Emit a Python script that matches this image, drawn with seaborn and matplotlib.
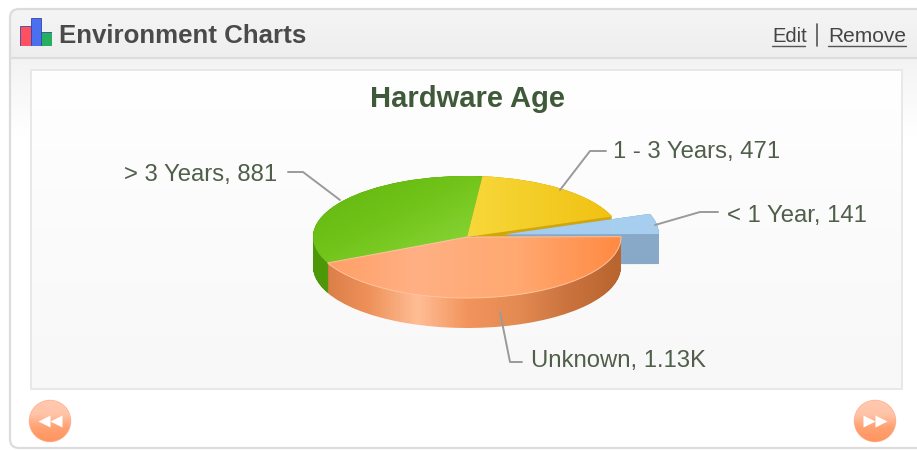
import numpy as np
import seaborn as sns
import matplotlib.pyplot as plt
from matplotlib.patches import Circle, FancyBboxPatch, Rectangle
from matplotlib.path import Path

# data
slice_names = ['Unknown', '< 1 Year', '1 - 3 Years', '> 3 Years']
slice_values = [1130, 141, 471, 881]
slice_texts = ['1.13K', '141', '471', '881']
explode = [0, 0.25, 0, 0]
icon_heights = [20, 28, 14]

title = 'Hardware Age'
panel_title = 'Environment Charts'

# pie position in pixels
CX, CY, RX, RY, DEPTH = 467, 237, 154, 61, 30
W, H = 917, 450

sns.set_theme(style='white')
plt.rcParams['font.family'] = ['Liberation Sans', 'DejaVu Sans']

fig = plt.figure(figsize=(W / 100, H / 100), dpi=100, facecolor='white')


def pixel_axes():
    a = fig.add_axes([0, 0, 1, 1])
    a.set_xlim(0, W)
    a.set_ylim(H, 0)
    a.axis('off')
    a.patch.set_alpha(0)
    return a


def fill_gradient(a, colors, extent, clip=None, transform=None, vertical=False, diagonal=False, zorder=2):
    cmap = sns.blend_palette(colors, n_colors=256, as_cmap=True)
    g = np.linspace(0, 1, 256)
    if diagonal:
        img = (g[None, :] + g[:, None]) / 2
    elif vertical:
        img = g[:, None]
    else:
        img = g[None, :]
    im = a.imshow(img, cmap=cmap, extent=extent, aspect='auto', origin='upper',
                  interpolation='bilinear', vmin=0, vmax=1, zorder=zorder)
    if clip is not None:
        if isinstance(clip, Path):
            im.set_clip_path(clip, transform=transform)
        else:
            im.set_clip_path(clip)
    return im


# panel chrome
base = pixel_axes()
frame = FancyBboxPatch((10, 9), 940, 439, boxstyle='round,pad=0,rounding_size=9',
                       facecolor='white', edgecolor='none', zorder=1)
base.add_patch(frame)
fill_gradient(base, ['#f5f5f5', '#eeeeee'], (10, W, 58, 9), clip=frame, vertical=True, zorder=1.5)
fill_gradient(base, ['#f3f3f3', '#ffffff'], (10, W, 135, 58), clip=frame, vertical=True, zorder=1.5)
base.add_patch(FancyBboxPatch((10, 9), 940, 439, boxstyle='round,pad=0,rounding_size=9',
                              fill=False, edgecolor='#dcdcdc', linewidth=1.6, zorder=1.8))
base.plot([10, W], [58, 58], color='#dddddd', lw=1.6, zorder=2)

fill_gradient(base, ['#ffffff', '#fbfbfb', '#f8f8f8'], (31, 902, 389, 70), vertical=True, zorder=2)
base.add_patch(Rectangle((31, 70), 871, 319, fill=False, edgecolor='#e8e8e8', lw=1.4, zorder=3))
base.set_xlim(0, W)
base.set_ylim(H, 0)

# pie
pie_ax = pixel_axes()
wedges, _ = pie_ax.pie(slice_values, explode=explode, startangle=205.2, counterclock=True, radius=1,
                       colors=['#ff9a5c', '#a2cbee', '#f3c91f', '#78c820'],
                       wedgeprops=dict(linewidth=0))
pie_ax.set_aspect('auto')
pie_ax.axis('off')
pie_ax.patch.set_alpha(0)

ext = (-1.3, 1.3, -1.6, 1.0)


def extruded(wedge):
    p = wedge.get_path()
    parts = []
    for d in range(0, DEPTH + 1):
        parts.append(Path(p.vertices + [0, -d / RY], p.codes))
    return Path.make_compound_path(*parts)


orange, blue, yellow, green = wedges

# sides, back to front
fill_gradient(pie_ax, ['#d2a50a', '#d2a50a'], ext, clip=extruded(yellow), transform=pie_ax.transData, zorder=0.9)
fill_gradient(pie_ax, ['#4b9608', '#5aa80e'], ext, clip=extruded(green), transform=pie_ax.transData, zorder=1)
fill_gradient(pie_ax, ['#88a9c8', '#88a9c8'], ext, clip=extruded(blue), transform=pie_ax.transData, zorder=1.1)
fill_gradient(pie_ax,
              ['#d67a45', '#d67a45', '#ee9058', '#ffbd95', '#f2945c', '#e38b52', '#cb733e', '#b9652f', '#b9652f'],
              ext, clip=extruded(orange), transform=pie_ax.transData, zorder=1.2)

# tops
fill_gradient(pie_ax, ['#5cb30a', '#72c41a', '#90da40'], (-1.05, 0.1, -0.45, 1.05), clip=green, diagonal=True, zorder=3)
fill_gradient(pie_ax, ['#f7d83a', '#f0c010'], (0, 1, -0.1, 1.05), clip=yellow, zorder=3)
fill_gradient(pie_ax, ['#9cc8ee', '#a8cff0'], ext, clip=blue, zorder=3.1)
fill_gradient(pie_ax, ['#ff9c62', '#ffb084', '#ffa870', '#ff8a42'], (-1, 1, -1, 0.1), clip=orange, zorder=3.2)
green.set_zorder(0.5)
yellow.set_zorder(0.5)
blue.set_zorder(0.5)
orange.set_facecolor('none')
orange.set_edgecolor('#ffc4a0')
orange.set_linewidth(0.7)
orange.set_zorder(3.3)
pie_ax.set_xlim(-CX / RX, (W - CX) / RX)
pie_ax.set_ylim(-(H - CY) / RY, CY / RY)

# text, leaders, icon, buttons
top = pixel_axes()
top.text(467, 99, title, ha='center', va='center', fontsize=21, fontweight='bold', color='#3f5a38')
top.text(59, 36, panel_title, ha='left', va='center', fontsize=18.6, fontweight='bold', color='#4a4a4a')
top.text(772, 36, 'Edit', ha='left', va='center', fontsize=14.5, color='#444444')
top.text(828, 36, 'Remove', ha='left', va='center', fontsize=15, color='#444444')
top.plot([772, 805], [46, 46], color='#555555', lw=1)
top.plot([828, 906], [46, 46], color='#555555', lw=1)
top.plot([817, 817], [24, 46], color='#555555', lw=1.2)

label_color = '#4f5f4a'
label_pos = {
    '> 3 Years': (277, 175, 'right'),
    '1 - 3 Years': (613, 152, 'left'),
    '< 1 Year': (727, 216, 'left'),
    'Unknown': (531, 361, 'left'),
}
for name, txt in zip(slice_names, slice_texts):
    x, y, ha = label_pos[name]
    top.text(x, y, f'{name}, {txt}', ha=ha, va='center', fontsize=17.2, color=label_color)

leaders = [
    ([288, 303, 340], [172, 172, 200]),
    ([606, 590, 560], [151, 151, 190]),
    ([718, 700, 655], [212, 212, 225]),
    ([522, 510, 500], [362, 362, 312]),
]
for lx, ly in leaders:
    top.plot(lx, ly, color='#9a9a9a', lw=1.4, zorder=4)

for bx, marks in [(50, ['<', '<']), (875, ['>', '>'])]:
    circ = Circle((bx, 421), 20.5, facecolor='#ff9a66', edgecolor='#ffb090', lw=1, zorder=2)
    top.add_patch(circ)
    fill_gradient(top, ['#ffc9b0', '#ffc4a8', '#ffa070', '#ff9560'], (bx - 21, bx + 21, 442, 400),
                  clip=circ, vertical=True, zorder=3)
    top.scatter([bx - 6, bx + 6], [421, 421], marker=marks[0], s=75, color='white', linewidths=0, zorder=4)

top.set_xlim(0, W)
top.set_ylim(H, 0)

# small bar icon
icon = fig.add_axes([20 / W, 1 - 46 / H, 32 / W, 30 / H])
sns.barplot(x=['a', 'b', 'c'], y=icon_heights, hue=['a', 'b', 'c'], palette=['#ff5060', '#4a70f0', '#25b060'],
            width=1, dodge=False, legend=False, saturation=1, edgecolor='#3344aa', linewidth=0.6, ax=icon)
icon.set_ylim(0, 30)
icon.set_xlim(-0.5, 2.5)
icon.axis('off')

fig.savefig('out.png', dpi=100)
